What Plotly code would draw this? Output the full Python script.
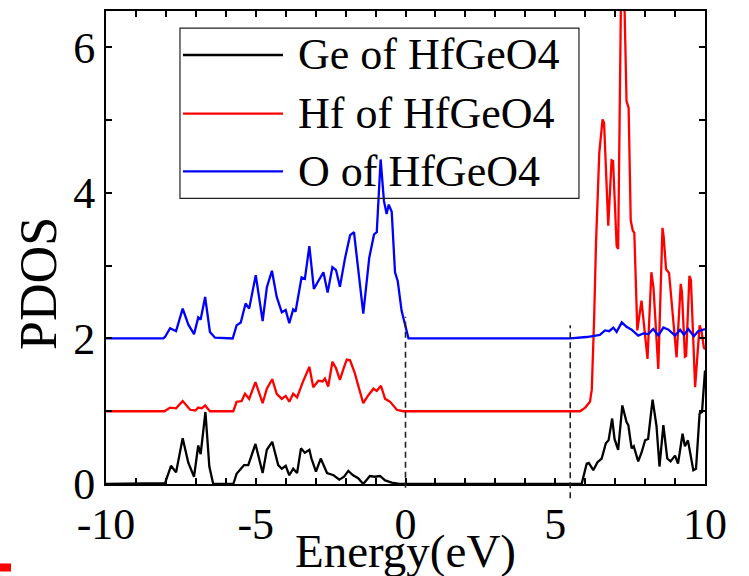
import plotly.graph_objects as go

# Projected density of states of HfGeO4 (energy in eV, Fermi level at 0)
ge_energy = [-10, -8.2, -8.03, -7.83, -7.66, -7.44, -7.25, -7.06, -6.92, -6.84,
             -6.68, -6.55, -6.42, -5.75, -5.64, -5.39, -5.25, -5.01, -4.77, -4.63,
             -4.45, -4.25, -4.13, -4.0, -3.88, -3.75, -3.62, -3.49, -3.36, -3.21,
             -3.14, -2.99, -2.83, -2.62, -2.40, -2.21, -2.05, -1.91, -1.75, -1.58,
             -1.41, -1.19, -1.02, -0.85, -0.68, -0.46, -0.2, 0, 5.5, 5.88,
             6.05, 6.12, 6.27, 6.41, 6.55, 6.69, 6.78, 6.90, 6.98, 7.10,
             7.24, 7.38, 7.44, 7.55, 7.62, 7.77, 7.88, 8.0, 8.1, 8.25,
             8.38, 8.48, 8.61, 8.74, 8.85, 9.0, 9.1, 9.25, 9.33, 9.43,
             9.61, 9.70, 9.82, 9.90, 10.0]
ge_pdos = [0, 0, 0.01, 0.25, 0.16, 0.63, 0.29, 0.10, 0.53, 0.41,
           0.99, 0.24, 0.0, 0, 0.14, 0.26, 0.26, 0.55, 0.15, 0.47,
           0.58, 0.26, 0.21, 0.25, 0.12, 0.21, 0.15, 0.49, 0.43, 0.47,
           0.35, 0.17, 0.35, 0.15, 0.12, 0.06, 0.10, 0.18, 0.12, 0.08,
           0.0, 0.11, 0.10, 0.11, 0.05, 0.02, 0.0, 0, 0, 0,
           0.28, 0.29, 0.19, 0.30, 0.35, 0.56, 0.60, 0.90, 0.62, 0.47,
           1.08, 0.85, 0.81, 0.49, 0.52, 0.31, 0.43, 0.60, 0.62, 1.16,
           0.80, 0.24, 0.81, 0.35, 0.31, 0.39, 0.28, 0.69, 0.52, 0.60,
           0.19, 0.21, 0.97, 0.99, 1.56]

hf_energy = [-10, -8.05, -7.86, -7.66, -7.44, -7.19, -7.02, -6.92, -6.80, -6.69,
             -6.53, -5.75, -5.64, -5.47, -5.36, -5.22, -5.01, -4.77, -4.63, -4.45,
             -4.30, -4.13, -4.0, -3.88, -3.75, -3.62, -3.41, -3.21, -3.08, -2.91,
             -2.77, -2.69, -2.58, -2.44, -2.32, -2.19, -2.05, -1.96, -1.85, -1.69,
             -1.55, -1.41, -1.24, -1.07, -0.96, -0.82, -0.68, -0.51, -0.29, -0.08,
             5.83, 6.0, 6.16, 6.22, 6.30, 6.36, 6.47, 6.58, 6.63, 6.77,
             6.88, 6.93, 7.05, 7.10, 7.22, 7.29, 7.38, 7.45, 7.52, 7.59,
             7.64, 7.74, 7.88, 7.95, 8.08, 8.21, 8.28, 8.44, 8.58, 8.62,
             8.70, 8.80, 8.94, 9.05, 9.19, 9.23, 9.33, 9.37, 9.48, 9.53,
             9.67, 9.82, 9.88, 9.96, 10.0]
hf_pdos = [0, 0, 0.05, 0.04, 0.14, 0.02, 0.01, 0.05, 0.04, 0.08,
           0.0, 0, 0.13, 0.14, 0.24, 0.17, 0.40, 0.11, 0.31, 0.44,
           0.24, 0.17, 0.21, 0.13, 0.24, 0.19, 0.42, 0.61, 0.33, 0.42,
           0.41, 0.45, 0.34, 0.68, 0.59, 0.43, 0.61, 0.71, 0.70, 0.52,
           0.31, 0.11, 0.22, 0.31, 0.28, 0.35, 0.17, 0.13, 0.02, 0,
           0, 0.05, 0.13, 0.3, 1.3, 2.3, 3.55, 4.01, 3.96, 2.55,
           3.45, 3.44, 2.27, 2.23, 6.6, 6.0, 4.26, 4.17, 2.62, 2.48,
           2.45, 1.11, 1.52, 1.25, 0.72, 1.91, 1.70, 0.58, 2.52, 2.40,
           1.95, 1.90, 1.20, 0.74, 1.75, 1.64, 0.75, 0.76, 1.86, 1.80,
           0.33, 1.18, 1.11, 0.88, 0.85]

o_energy = [-10, -8.09, -8.03, -7.86, -7.66, -7.44, -7.25, -7.06, -6.92, -6.84,
            -6.69, -6.53, -6.36, -5.77, -5.64, -5.50, -5.34, -5.22, -5.00, -4.77,
            -4.63, -4.46, -4.30, -4.13, -4.00, -3.88, -3.75, -3.67, -3.47, -3.36,
            -3.21, -3.06, -2.91, -2.74, -2.60, -2.44, -2.32, -2.19, -2.02, -1.85,
            -1.72, -1.58, -1.41, -1.21, -1.05, -0.96, -0.83, -0.72, -0.63, -0.56,
            -0.46, -0.35, -0.26, -0.13, 0.0, 0.10, 5.5, 5.9, 6.05, 6.49,
            6.66, 6.80, 6.94, 7.05, 7.22, 7.38, 7.55, 7.77, 7.94, 8.11,
            8.27, 8.44, 8.61, 8.78, 9.0, 9.17, 9.30, 9.44, 9.63, 9.77,
            9.96, 10.0]
o_pdos = [0, 0, 0.02, 0.14, 0.10, 0.41, 0.19, 0.06, 0.29, 0.26,
          0.57, 0.09, 0.01, 0, 0.18, 0.22, 0.48, 0.41, 0.87, 0.24,
          0.70, 0.93, 0.57, 0.36, 0.39, 0.21, 0.40, 0.37, 0.84, 0.82,
          1.27, 0.68, 0.79, 0.91, 0.63, 0.98, 0.94, 0.71, 1.10, 1.42,
          1.46, 0.98, 0.34, 1.11, 1.43, 1.46, 2.46, 1.89, 1.71, 1.84,
          1.74, 0.91, 0.79, 0.38, 0.15, 0, 0, 0.01, 0.02, 0.05,
          0.11, 0.10, 0.15, 0.09, 0.22, 0.16, 0.12, 0.04, 0.07, 0.06,
          0.13, 0.04, 0.15, 0.12, 0.04, 0.12, 0.05, 0.13, 0.03, 0.10,
          0.13, 0.13]

series_names = ["Ge of HfGeO4", "Hf of HfGeO4", "O of HfGeO4"]
series_colors = ["#000000", "#ff0000", "#0000ff"]
series_offsets = [0, 1, 2]          # vertical stacking of the curves

vbm_energy = 0.0                    # valence band maximum
cbm_energy = 5.5                    # conduction band minimum

x_tick_values = [-10, -5, 0, 5, 10]
x_tick_labels = ["-10", "-5", "0", "5", "10"]
y_tick_values = [0, 2, 4, 6]
y_tick_labels = ["0", "2", "4", "6"]

FONT = "Liberation Serif"
Y_MAX = 6.5

fig = go.Figure()
curves = [(ge_energy, ge_pdos), (hf_energy, hf_pdos), (o_energy, o_pdos)]
for (e, d), name, color, off in zip(curves, series_names, series_colors, series_offsets):
    assert len(e) == len(d)
    fig.add_trace(go.Scatter(
        x=e, y=[v + off for v in d], mode="lines", name=name,
        line=dict(color=color, width=2.3), showlegend=False,
    ))

# dashed markers for the band edges, running slightly past the bottom axis
for e_edge, top, bottom in [(vbm_energy, 2.3, -0.008), (cbm_energy, 2.18, -0.03)]:
    fig.add_shape(type="line", xref="x", yref="paper",
                  x0=e_edge, x1=e_edge, y0=bottom, y1=top / Y_MAX,
                  line=dict(color="#222222", width=1.6, dash="6px,4px"))

# legend box drawn by hand so the line samples can be long
fig.add_shape(type="rect", xref="paper", yref="paper",
              x0=0.1235, x1=0.7896, y0=0.604, y1=0.964,
              line=dict(color="#222222", width=1.2))
row_y = [0.907, 0.783, 0.661]
for name, color, yy in zip(series_names, series_colors, row_y):
    fig.add_shape(type="line", xref="paper", yref="paper",
                  x0=0.1285, x1=0.2955, y0=yy, y1=yy,
                  line=dict(color=color, width=2.3))
    fig.add_annotation(x=0.317, y=yy, xref="paper", yref="paper",
                       text=name, showarrow=False, xanchor="left", yanchor="middle",
                       font=dict(family=FONT, size=44, color="black"))

# axis titles
fig.add_annotation(x=-0.112, y=0.425, xref="paper", yref="paper", text="PDOS",
                   textangle=-90, showarrow=False, xanchor="center", yanchor="middle",
                   font=dict(family=FONT, size=52, color="black"))
fig.add_annotation(x=0.5, y=-0.142, xref="paper", yref="paper", text="Energy(eV)",
                   showarrow=False, xanchor="center", yanchor="middle",
                   font=dict(family=FONT, size=47, color="black"))

# small red mark in the lower left corner
fig.add_shape(type="rect", xref="paper", yref="paper",
              x0=-0.177, x1=-0.1586, y0=-0.185, y1=-0.168,
              line=dict(width=0), fillcolor="#ff0000")

axis_common = dict(
    showline=True, linecolor="black", linewidth=2, mirror="allticks",
    ticks="inside", ticklen=6, tickwidth=1.5, tickcolor="black",
    showgrid=False, zeroline=False,
    tickfont=dict(family=FONT, size=44, color="black"),
)
minor_ticks = dict(dtick=1, ticks="inside", ticklen=6, tickwidth=1.5,
                   tickcolor="black", showgrid=False)
fig.update_xaxes(range=[-10, 10], tickvals=x_tick_values, ticktext=x_tick_labels,
                 minor=minor_ticks, **axis_common)
fig.update_yaxes(range=[0, Y_MAX], tickvals=y_tick_values, ticktext=y_tick_labels,
                 minor=minor_ticks, **axis_common)

fig.update_layout(
    width=749, height=576,
    margin=dict(l=106, r=44, t=9, b=92),
    paper_bgcolor="white", plot_bgcolor="white",
    showlegend=False,
)

fig.write_html("out.html")
